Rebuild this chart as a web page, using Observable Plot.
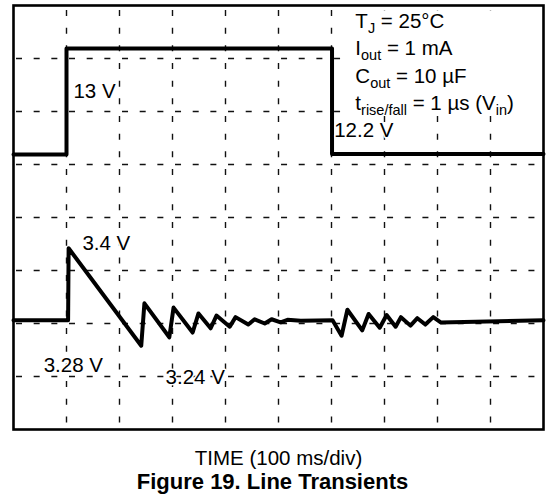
<!DOCTYPE html>
<html>
<head>
<meta charset="utf-8">
<script src="https://cdn.jsdelivr.net/npm/d3@7"></script>
<script src="https://cdn.jsdelivr.net/npm/@observablehq/plot@0.6"></script>
<style>
  html, body { margin: 0; padding: 0; background: #fff; }
  svg { display: block; }
</style>
</head>
<body>
<div id="chart"></div>
<script>
// Time in ms (100 ms/div), amplitude in scope divisions (0 = bottom, 8 = top)
const inputTime  = [0, 100, 100, 601, 601, 1000];
const inputLevel = [5.19, 5.19, 7.19, 7.19, 5.2, 5.2];

const outputTime  = [0, 101, 103, 104, 241, 247, 294, 302, 338, 349, 372, 383, 408, 419, 443, 455, 474, 487, 504, 517, 542, 602, 619, 630, 658, 670, 691, 704, 721, 731, 749, 762, 777, 792, 806, 1000];
const outputLevel = [2.06, 2.06, 2.06, 3.42, 1.58, 2.38, 1.74, 2.30, 1.83, 2.19, 1.91, 2.15, 1.94, 2.12, 1.98, 2.08, 2.00, 2.08, 2.02, 2.07, 2.05, 2.06, 1.77, 2.26, 1.87, 2.18, 1.92, 2.16, 1.94, 2.12, 1.96, 2.10, 1.98, 2.12, 2.02, 2.06];

const gridTimes  = [100, 200, 300, 400, 500, 600, 700, 800, 900];
const gridLevels = [1, 2, 3, 4, 5, 6, 7];

const labelText = ["13 V", "12.2 V", "3.4 V", "3.28 V", "3.24 V"];
const labelTime = [113, 605, 130, 57, 287];
const labelLevel = [6.26, 5.51, 3.38, 1.09, 0.85];

const infoText = ["T_{J} = 25°C", "I_{out} = 1 mA", "C_{out} = 10 µF", "t_{rise/fall} = 1 µs (V_{in})"];
const infoLevel = [7.58, 7.06, 6.54, 6.02];
const infoTime = 645;

const xLabel = "TIME (100 ms/div)";
const figTitle = "Figure 19. Line Transients";

const inputData = inputTime.map((t, i) => ({t, v: inputLevel[i]}));
const outputData = outputTime.map((t, i) => ({t, v: outputLevel[i]}));
const labels = labelText.map((s, i) => ({s, t: labelTime[i], v: labelLevel[i]}));
const infos = infoText.map((s, i) => ({s, t: infoTime, v: infoLevel[i]}));
// white backdrop behind the condition block
const infoBox = [{x1: infoTime - 19, x2: 985, y1: d3.min(infoLevel) - 0.06, y2: 7.9}];

const font = "'Liberation Sans', Arial, Helvetica, sans-serif";

const plot = Plot.plot({
  width: 546,
  height: 494,
  marginTop: 5,
  marginBottom: 65,
  marginLeft: 13,
  marginRight: 3,
  style: {fontFamily: font, background: "#fff", color: "#000"},
  x: {domain: [0, 1000], axis: null},
  y: {domain: [0, 8], axis: null},
  marks: [
    Plot.ruleX(gridTimes, {x: d => d, stroke: "#111", strokeWidth: 1.4, strokeDasharray: "6,11.67", strokeDashoffset: -5}),
    Plot.ruleY(gridLevels, {y: d => d, stroke: "#111", strokeWidth: 1.4, strokeDasharray: "6,11.67", strokeDashoffset: -3}),
    Plot.rect(infoBox, {x1: "x1", x2: "x2", y1: "y1", y2: "y2", fill: "#fff"}),
    Plot.line(inputData, {x: "t", y: "v", stroke: "#000", strokeWidth: 4, strokeLinejoin: "round"}),
    Plot.line(outputData, {x: "t", y: "v", stroke: "#000", strokeWidth: 4, strokeLinejoin: "round"}),
    Plot.frame({stroke: "#000", strokeWidth: 2.6}),
    Plot.text(labels, {x: "t", y: "v", text: "s", textAnchor: "start", lineAnchor: "bottom", fontSize: 20.5, fill: "#000", stroke: "#fff", strokeWidth: 3, paintOrder: "stroke"}),
    Plot.text(infos, {x: "t", y: "v", text: "s", textAnchor: "start", lineAnchor: "bottom", fontSize: 20.5, fill: "#000"}),
    Plot.text([xLabel], {frameAnchor: "bottom", text: d => d, lineAnchor: "bottom", dy: 35, fontSize: 20.5, fill: "#000"}),
    Plot.text([figTitle], {frameAnchor: "bottom", text: d => d, lineAnchor: "bottom", dy: 59, dx: -6, fontSize: 22, fontWeight: "bold", fill: "#000"})
  ]
});

// Render subscripts (written as _{...}) with tspans
const NS = "http://www.w3.org/2000/svg";
plot.querySelectorAll("text").forEach(t => {
  const s = t.textContent;
  if (!s.includes("_{")) return;
  t.textContent = "";
  const re = /_\{([^}]*)\}/g;
  let last = 0, m, inSub = false;
  const add = (str, sub) => {
    const ts = document.createElementNS(NS, "tspan");
    ts.textContent = str;
    if (sub) { ts.setAttribute("font-size", "14.5"); ts.setAttribute("dy", "5"); }
    else if (inSub) { ts.setAttribute("dy", "-5"); }
    inSub = sub;
    t.appendChild(ts);
  };
  while ((m = re.exec(s))) {
    if (m.index > last) add(s.slice(last, m.index), false);
    add(m[1], true);
    last = re.lastIndex;
  }
  if (last < s.length) add(s.slice(last), false);
});

document.getElementById("chart").appendChild(plot);
</script>
</body>
</html>
